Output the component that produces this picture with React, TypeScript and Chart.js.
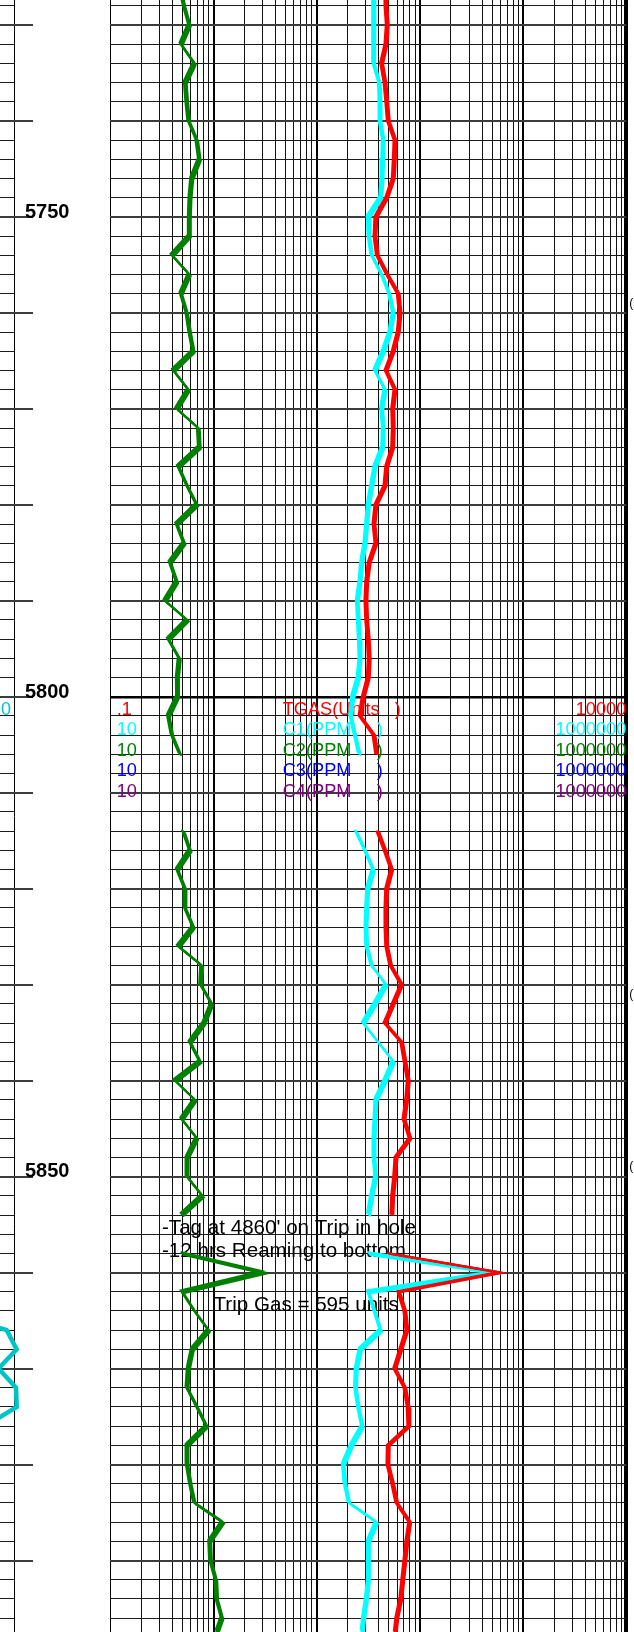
import React, { useEffect, useRef } from 'react';
import { Chart, registerables } from 'chart.js';

Chart.register(...registerables);

const FONT = '"Liberation Sans", Arial, Helvetica, sans-serif';

// ---- depth window (ft) ----
const DEPTH_TOP = 5727.4;
const DEPTH_BOTTOM = 5897.45;

// ---- sample depths (ft) ----
const depths = [
  5726, 5728, 5730, 5732, 5734, 5736, 5738, 5740, 5742, 5744,
  5746, 5748, 5750, 5752, 5754, 5756, 5758, 5760, 5762, 5764,
  5766, 5768, 5770, 5772, 5774, 5776, 5778, 5780, 5782, 5784,
  5786, 5788, 5790, 5792, 5794, 5796, 5798, 5800, 5802, 5804,
  5806, 5808, 5810, 5812, 5814, 5816, 5818, 5820, 5822, 5824,
  5826, 5828, 5830, 5832, 5834, 5836, 5838, 5840, 5842, 5844,
  5846, 5848, 5850, 5852, 5854, 5856, 5858, 5860, 5862, 5864,
  5866, 5868, 5870, 5872, 5874, 5876, 5878, 5880, 5882, 5884,
  5886, 5888, 5890, 5892, 5894, 5896, 5898,
];

// ---- total gas (units) ----
const tgas = [
  46.9, 46.9, 48.3, 46.9, 42.6, 45.9, 47.7, 49.4, 57.4, 56.5,
  55.2, 47.7, 37.5, 36.7, 38.7, 48.3, 61.7, 64.2, 61.7, 55.2,
  46.9, 57.4, 54.5, 55.2, 54.5, 47.7, 45.9, 37.5, 35.9, 37.5,
  32.3, 30.5, 30.0, 30.5, 31.6, 32.3, 31.6, 28.3, 26.3, 35.9,
  38.1, null, null, null, 39.0, 45.9, 53.3, 47.7, 46.9, 46.9,
  47.7, 52.1, 66.6, 55.2, 45.9, 66.6, 71.7, 77.2, 74.5, 70.1,
  80.2, 58.7, 57.0, 54.5, 53.5, null, 49.9, 595, 62.4, 71.5,
  74.8, 65.3, 57.0, 71.5, 76.9, 78.2, 49.4, 49.0, 54.5, 59.7,
  79.7, 74.8, 71.5, 68.3, 65.3, 59.7, 57.0,
];

// ---- C1 (ppm) ----
const c1 = [
  3591, 3591, 3591, 3535, 3535, 4043, 4107, 4107, 4419, 4360,
  4293, 4172, 3162, 3212, 3411, 4264, 5052, 5523, 5132, 4419,
  3672, 4590, 4264, 4419, 4360, 3672, 3411, 3162, 3051, 2938,
  2729, 2627, 2474, 2530, 2586, 2627, 2530, 2233, 2135, 2350,
  2586, null, null, null, 2403, 2938, 3535, 3120, 3051, 3004,
  3051, 3411, 4694, 3672, 2828, 3953, 5523, 4590, 3754, 3672,
  3591, 3591, 3729, 3411, 3170, null, 3170, 54620, 3170, 3631,
  4162, 2645, 2419, 2377, 2530, 2766, 2169, 1810, 1880, 2056,
  3797, 3170, 3170, 3170, 3031, 2848, 2717,
];

// ---- C2 (ppm) ----
const c2 = [
  47.0, 51.8, 58.3, 48.4, 65.2, 53.3, 55.0, 57.5, 68.8, 72.9,
  61.5, 59.2, 58.3, 58.3, 39.6, 58.3, 48.4, 55.0, 58.8, 63.7,
  40.8, 57.0, 44.0, 71.2, 72.9, 45.6, 55.4, 68.8, 44.0, 51.8,
  37.9, 44.0, 33.9, 55.7, 36.5, 46.6, 44.6, 44.8, 36.5, 39.6,
  47.4, null, null, null, 51.0, 59.2, 44.6, 52.9, 52.9, 63.7,
  45.6, 76.9, 75.2, 96.1, 80.9, 59.2, 74.0, 42.4, 66.2, 49.2,
  68.8, 55.7, 55.4, 78.1, 48.9, null, 49.7, 303, 49.7, 65.5,
  89.5, 62.3, 57.0, 55.4, 69.2, 85.6, 55.4, 55.4, 59.6, 65.2,
  122.8, 91.9, 93.5, 105.3, 107.2, 120.6, 103.4,
];

// ---- left track (ROP) ----
const ropDepths = [5862, 5864, 5866, 5868, 5870, 5872, 5874, 5876, 5878];
const rop = [-20.4, -18.7, 2.28, 5.68, -0.51, 5.44, 5.68, -5.1, -20.4];

// ---- legend / labels ----
const legendLow = ['.1', '10', '10', '10', '10'];
const legendNames = ['TGAS(Units   )', 'C1(PPM     )', 'C2(PPM     )', 'C3(PPM     )', 'C4(PPM     )'];
const legendHigh = ['10000', '1000000', '1000000', '1000000', '1000000'];
const legendColors = ['#FF0000', '#00FFFF', '#008000', '#0000FF', '#800080'];
const LEGEND_DEPTH = 5800;
const depthLabels = [5750, 5800, 5850];
const ropLegend = '0';

const annotationTexts = ["-Tag at 4860' on Trip in hole", '-12 hrs Reaming to bottom', 'Trip Gas = 595 units'];
const annotationDepths = [5855.97, 5858.33, 5863.96];
const annotationTgas = [0.317, 0.317, 1.0];

const edgeGlyphDepths = [5759, 5831, 5849];

// grid tick values
const depthGrid: number[] = [];
for (let d = 5728; d <= 5896; d += 2) depthGrid.push(d);
const logGrid = (lo: number, hi: number) => {
  const out: number[] = [];
  for (let dec = lo; dec < hi * 0.999; dec *= 10) {
    for (let m = 1; m <= 9; m++) out.push(+(dec * m).toPrecision(6));
  }
  out.push(hi);
  return out;
};
const isDecade = (v: number) => Math.abs(Math.log10(v) - Math.round(Math.log10(v))) < 1e-6;

const GREEN_PEN = [[-1.5, -1.5], [-0.5, -0.5], [0.5, 0.5], [1.5, 1.5]];
const RED_PEN = [[-1.5, -0.5], [-0.5, -0.2], [0.5, 0.2], [1.5, 0.5]];

const penPlugin = {
  id: 'pen',
  beforeDatasetDraw(chart: any, args: any) {
    const pen = chart.data.datasets[args.index].pen;
    if (!pen) return;
    chart.ctx.save();
    chart.ctx.translate(pen[0][0], pen[0][1]);
  },
  afterDatasetDraw(chart: any, args: any) {
    const pen = chart.data.datasets[args.index].pen;
    if (!pen) return;
    const ctx = chart.ctx;
    ctx.restore();
    const a = chart.chartArea;
    for (let i = 1; i < pen.length; i++) {
      ctx.save();
      ctx.beginPath();
      ctx.rect(a.left, a.top, a.right - a.left, a.bottom - a.top);
      ctx.clip();
      ctx.translate(pen[i][0], pen[i][1]);
      args.meta.controller.draw();
      ctx.restore();
    }
  },
};

const mainTextPlugin = {
  id: 'mainText',
  beforeDatasetsDraw(chart: any) {
    const { ctx, chartArea: a } = chart;
    const y = chart.scales.y;
    const xt = chart.scales.xt;
    const base = y.getPixelForValue(LEGEND_DEPTH);
    ctx.save();
    ctx.font = `18.2px ${FONT}`;
    ctx.textBaseline = 'alphabetic';
    for (let i = 0; i < legendNames.length; i++) {
      const by = base + 17.8 + i * 20.5;
      ctx.fillStyle = legendColors[i];
      ctx.textAlign = 'left';
      ctx.fillText(legendLow[i], a.left + 6.4, by);
      ctx.fillText(legendNames[i], a.left + 172.4, by);
      ctx.textAlign = 'right';
      ctx.fillText(legendHigh[i], a.right, by);
    }
    ctx.font = `20.6px ${FONT}`;
    ctx.fillStyle = '#000';
    ctx.textAlign = 'left';
    for (let i = 0; i < annotationTexts.length; i++) {
      ctx.fillText(annotationTexts[i], xt.getPixelForValue(annotationTgas[i]), y.getPixelForValue(annotationDepths[i]));
    }
    ctx.restore();
  },
  afterDraw(chart: any) {
    const { ctx, chartArea: a } = chart;
    const y = chart.scales.y;
    ctx.save();
    ctx.font = `12px ${FONT}`;
    ctx.fillStyle = '#000';
    ctx.textAlign = 'left';
    ctx.textBaseline = 'middle';
    for (const d of edgeGlyphDepths) ctx.fillText('(', a.right + 3, y.getPixelForValue(d));
    ctx.restore();
  },
};

const leftTextPlugin = {
  id: 'leftText',
  beforeDatasetsDraw(chart: any) {
    const { ctx, chartArea: a } = chart;
    const y = chart.scales.y;
    ctx.save();
    ctx.strokeStyle = '#3c3c3c';
    ctx.lineWidth = 2;
    for (const d of depthGrid) {
      if (d % 10 !== 0) continue;
      const py = Math.round(y.getPixelForValue(d));
      ctx.beginPath();
      ctx.moveTo(0, py);
      ctx.lineTo(a.right + 18.3, py);
      ctx.stroke();
    }
    ctx.font = `bold 20px ${FONT}`;
    ctx.fillStyle = '#000';
    ctx.textAlign = 'left';
    ctx.textBaseline = 'alphabetic';
    for (const d of depthLabels) ctx.fillText(String(d), a.right + 10.3, y.getPixelForValue(d) + 0.8);
    ctx.font = `18px ${FONT}`;
    ctx.fillStyle = '#00C4C4';
    ctx.textAlign = 'right';
    ctx.fillText(ropLegend, 11, y.getPixelForValue(LEGEND_DEPTH) + 17.8);
    ctx.restore();
  },
};

const pts = (vals: (number | null)[]) => depths.map((d, i) => ({ x: vals[i], y: d }));

function mainConfig(): any {
  return {
    type: 'scatter',
    data: {
      datasets: [
        { label: 'TGAS', data: pts(tgas), xAxisID: 'xt', yAxisID: 'y', showLine: true, borderColor: '#FF0000', borderWidth: 2, pointRadius: 0, pen: RED_PEN },
        { label: 'C1', data: pts(c1), xAxisID: 'xp', yAxisID: 'y', showLine: true, borderColor: '#00FFFF', borderWidth: 2, pointRadius: 0, pen: GREEN_PEN },
        { label: 'C2', data: pts(c2), xAxisID: 'xp', yAxisID: 'y', showLine: true, borderColor: '#008000', borderWidth: 2, pointRadius: 0, pen: GREEN_PEN },
      ],
    },
    options: {
      animation: false,
      responsive: false,
      maintainAspectRatio: false,
      events: [],
      layout: { padding: { left: 10.3, right: 7.7, top: 0, bottom: 0 } },
      plugins: { legend: { display: false }, tooltip: { enabled: false } },
      scales: {
        xt: {
          type: 'logarithmic', min: 0.1, max: 10000, position: 'bottom', display: true,
          ticks: { display: false },
          border: { display: false },
          grid: {
            drawTicks: false,
            color: (c: any) => (c.tick && isDecade(c.tick.value) ? '#000' : '#111'),
            lineWidth: (c: any) => {
              const v = c.tick ? c.tick.value : 1;
              if (v >= 9999) return 4;
              if (v <= 0.1001) return 1;
              return isDecade(v) ? 2 : 1;
            },
          },
          afterBuildTicks: (s: any) => { s.ticks = logGrid(0.1, 10000).map((v) => ({ value: v })); },
        },
        xp: { type: 'logarithmic', min: 10, max: 1000000, display: false },
        y: {
          type: 'linear', reverse: true, min: DEPTH_TOP, max: DEPTH_BOTTOM, position: 'left', display: true,
          ticks: { display: false },
          border: { display: false },
          grid: {
            drawTicks: false,
            color: (c: any) => {
              const v = c.tick ? c.tick.value : 0;
              if (v === LEGEND_DEPTH) return '#000';
              return v % 10 === 0 ? '#3c3c3c' : '#1a1a1a';
            },
            lineWidth: (c: any) => {
              const v = c.tick ? c.tick.value : 0;
              if (v === LEGEND_DEPTH) return 2.5;
              return v % 10 === 0 ? 2 : 1;
            },
          },
          afterBuildTicks: (s: any) => { s.ticks = depthGrid.map((v) => ({ value: v })); },
        },
      },
    },
    plugins: [penPlugin, mainTextPlugin],
  };
}

function leftConfig(): any {
  return {
    type: 'scatter',
    data: {
      datasets: [
        { label: 'ROP', data: ropDepths.map((d, i) => ({ x: rop[i], y: d })), showLine: true, borderColor: '#00C4C4', borderWidth: 4.5, pointRadius: 0, clip: false },
      ],
    },
    options: {
      animation: false,
      responsive: false,
      maintainAspectRatio: false,
      events: [],
      layout: { padding: { left: 0, right: 95.3, top: 0, bottom: 0 } },
      plugins: { legend: { display: false }, tooltip: { enabled: false } },
      scales: {
        x: { type: 'linear', min: 0, max: 5, display: false },
        y: {
          type: 'linear', reverse: true, min: DEPTH_TOP, max: DEPTH_BOTTOM, position: 'right', display: true,
          ticks: { display: false },
          border: { display: true, color: '#000', width: 1 },
          grid: { drawTicks: false, color: '#1a1a1a', lineWidth: 1 },
          afterBuildTicks: (s: any) => { s.ticks = depthGrid.map((v) => ({ value: v })); },
        },
      },
    },
    plugins: [leftTextPlugin],
  };
}

export default function App() {
  const leftRef = useRef<HTMLCanvasElement>(null);
  const mainRef = useRef<HTMLCanvasElement>(null);
  useEffect(() => {
    const left = new Chart(leftRef.current as HTMLCanvasElement, leftConfig());
    const main = new Chart(mainRef.current as HTMLCanvasElement, mainConfig());
    return () => {
      left.destroy();
      main.destroy();
    };
  }, []);
  return (
    <div style={{ position: 'absolute', left: 0, top: 0, width: 634, height: 1632, background: '#fff', overflow: 'hidden' }}>
      <canvas ref={leftRef} width={110} height={1632} style={{ position: 'absolute', left: 0, top: 0, width: 110, height: 1632 }} />
      <canvas ref={mainRef} width={534} height={1632} style={{ position: 'absolute', left: 100, top: 0, width: 534, height: 1632 }} />
    </div>
  );
}
